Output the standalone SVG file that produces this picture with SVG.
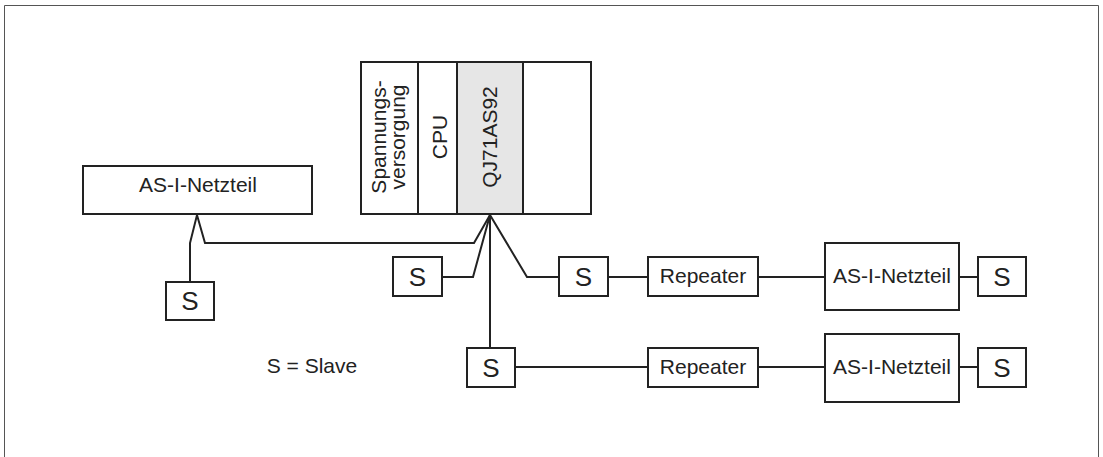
<svg xmlns="http://www.w3.org/2000/svg" width="1103" height="457" viewBox="0 0 1103 457">
<style>
.box{fill:#fff;stroke:#222;stroke-width:2}
.line{fill:none;stroke:#222;stroke-width:2}
.frame{fill:none;stroke:#555;stroke-width:1}
.t{font-family:"Liberation Sans",Arial,sans-serif;font-size:21px;fill:#222;text-anchor:middle}
.s{font-family:"Liberation Sans",Arial,sans-serif;font-size:26px;fill:#222;text-anchor:middle}
</style>
<rect width="1103" height="457" fill="#fff"/>
<path class="frame" d="M4.5,457 V5.5 H1098.5 V457"/>
<g id="connectors">
<path class="line" d="M490,215 L474,243 H205 L197,215 L190,243 V282"/>
<path class="line" d="M490,215 L473,277 H442"/>
<path class="line" d="M490,215 L527,277 H559"/>
<path class="line" d="M490,215 V348"/>
<path class="line" d="M608,277 H648 M758,277 H825 M959,277 H978"/>
<path class="line" d="M515,367 H648 M758,367 H825 M959,367 H978"/>
</g>
<g id="rack">
<rect class="box" x="361" y="62" width="230" height="152"/>
<rect x="457" y="62" width="66" height="152" fill="#e6e6e6" stroke="#222" stroke-width="2"/>
<line class="line" x1="418" y1="62" x2="418" y2="214"/>
<text class="t" transform="translate(386,137) rotate(-90)">Spannungs-</text>
<text class="t" transform="translate(405,137) rotate(-90)">versorgung</text>
<text class="t" transform="translate(447,137) rotate(-90)">CPU</text>
<text class="t" transform="translate(497,137) rotate(-90)">QJ71AS92</text>
</g>
<g id="netzteil-left">
<rect class="box" x="83" y="166" width="229" height="48"/>
<text class="t" x="198" y="192">AS-I-Netzteil</text>
</g>
<g id="slave-left">
<rect class="box" x="166" y="282" width="48" height="38"/>
<text class="s" x="190" y="310">S</text>
</g>
<g id="slave-1">
<rect class="box" x="393" y="257" width="49" height="39"/>
<text class="s" x="417.5" y="286">S</text>
</g>
<g id="slave-2">
<rect class="box" x="559" y="257" width="49" height="39"/>
<text class="s" x="583.5" y="286">S</text>
</g>
<g id="repeater-1">
<rect class="box" x="648" y="257" width="110" height="39"/>
<text class="t" x="703" y="283">Repeater</text>
</g>
<g id="netzteil-1">
<rect class="box" x="825" y="243" width="134" height="67"/>
<text class="t" x="892" y="283">AS-I-Netzteil</text>
</g>
<g id="slave-3">
<rect class="box" x="978" y="257" width="48" height="39"/>
<text class="s" x="1002" y="286">S</text>
</g>
<g id="slave-4">
<rect class="box" x="467" y="348" width="48" height="39"/>
<text class="s" x="491" y="377">S</text>
</g>
<g id="repeater-2">
<rect class="box" x="648" y="348" width="110" height="39"/>
<text class="t" x="703" y="374">Repeater</text>
</g>
<g id="netzteil-2">
<rect class="box" x="825" y="334" width="134" height="68"/>
<text class="t" x="892" y="374">AS-I-Netzteil</text>
</g>
<g id="slave-5">
<rect class="box" x="978" y="348" width="48" height="39"/>
<text class="s" x="1002" y="377">S</text>
</g>
<g id="legend">
<text class="t" x="312" y="373">S = Slave</text>
</g>
</svg>
